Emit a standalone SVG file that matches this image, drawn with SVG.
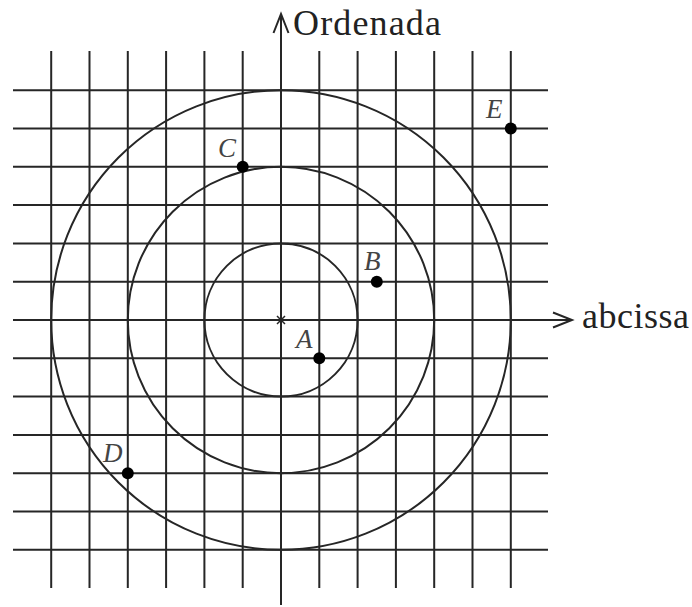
<svg xmlns="http://www.w3.org/2000/svg" width="692" height="607" viewBox="0 0 692 607">
<style>
.g{stroke:#262626;stroke-width:2;fill:none}
.c{stroke:#262626;stroke-width:2;fill:none}
.ax{stroke:#262626;stroke-width:2;fill:none}
.pt{fill:#000}
.lb{font-family:"Liberation Serif",serif;font-style:italic;font-size:27px;fill:#444}
.t{font-family:"Liberation Serif",serif;font-size:36px;fill:#222}
</style>
<rect width="692" height="607" fill="#fff"/>
<g id="grid">
<path class="g" d="M51.2 51V588M89.5 51V588M127.8 51V588M166.1 51V588M204.4 51V588M242.7 51V588M319.3 51V588M357.6 51V588M395.9 51V588M434.2 51V588M472.5 51V588M510.8 51V588"/>
<path class="g" d="M13 90.2H548M13 128.5H548M13 166.8H548M13 205.1H548M13 243.4H548M13 281.7H548M13 358.3H548M13 396.6H548M13 434.9H548M13 473.2H548M13 511.5H548M13 549.8H548"/>
</g>
<g id="circles">
<circle class="c" cx="281" cy="320" r="76.6"/>
<circle class="c" cx="281" cy="320" r="153.2"/>
<circle class="c" cx="281" cy="320" r="229.8"/>
<path d="M277 316L285 324M285 316L277 324" stroke="#262626" stroke-width="1.5"/>
</g>
<g id="connectors">
<path class="ax" d="M13 320H572"/>
<path class="ax" d="M553 312.5L572 320L553 327.5"/>
<path class="ax" d="M281 605V14"/>
<path class="ax" d="M273.5 33L281 14L288.5 33"/>
</g>
<g id="axis-labels">
<text class="t" x="293" y="35" textLength="148" lengthAdjust="spacing">Ordenada</text>
<text class="t" x="582" y="328" textLength="107" lengthAdjust="spacing">abcissa</text>
</g>
<g id="A"><circle class="pt" cx="319.3" cy="358.3" r="6"/><text class="lb" x="296" y="348">A</text></g>
<g id="B"><circle class="pt" cx="376.8" cy="281.7" r="6"/><text class="lb" x="364" y="270">B</text></g>
<g id="C"><circle class="pt" cx="242.7" cy="166.8" r="6"/><text class="lb" x="218" y="157">C</text></g>
<g id="D"><circle class="pt" cx="127.8" cy="473.2" r="6"/><text class="lb" x="103" y="462">D</text></g>
<g id="E"><circle class="pt" cx="510.8" cy="128.5" r="6"/><text class="lb" x="486" y="118">E</text></g>
</svg>
